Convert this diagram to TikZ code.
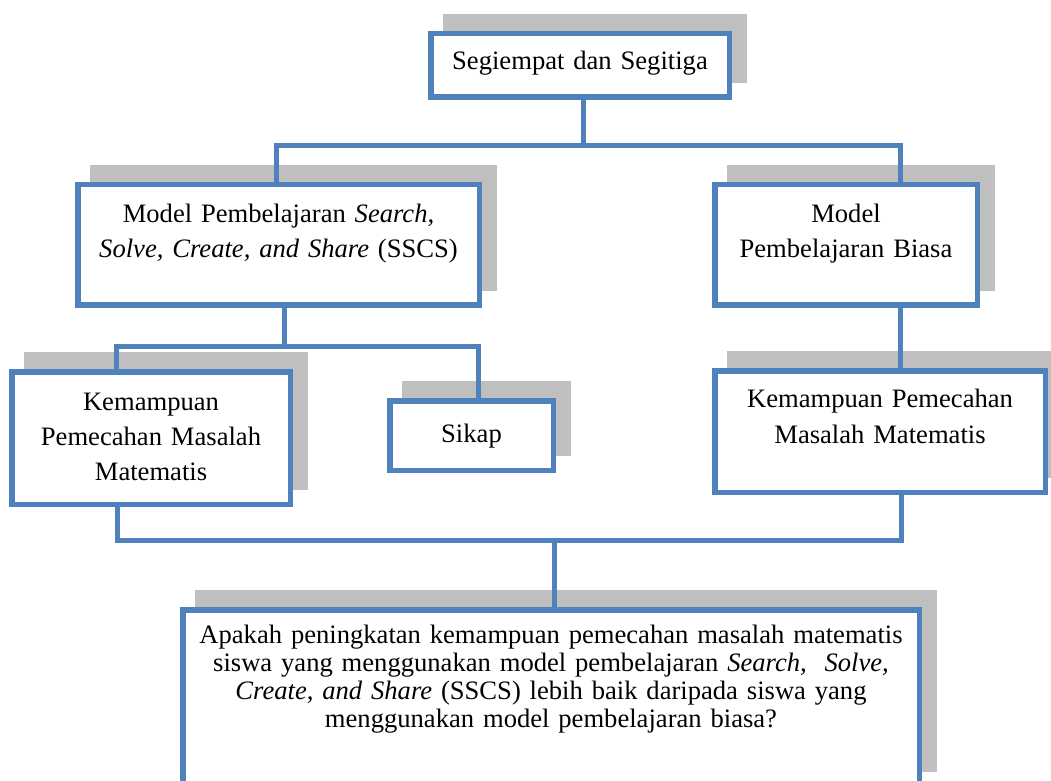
\documentclass[tikz,border=0pt]{standalone}
\usepackage{fontspec}
\setmainfont{Liberation Serif}
\usepackage{tikz}
\usetikzlibrary{shadows, positioning, calc}

\definecolor{biru}{HTML}{4F81BD}
\definecolor{abu}{HTML}{BFBFBF}

\tikzset{
  kotak/.style={draw=biru, line width=2.75pt, fill=white, inner sep=0pt,
    align=center, text height=10pt,
    font=\fontsize{13.3}{17.5}\selectfont,
    drop shadow={shadow xshift=7.5pt, shadow yshift=8.5pt, fill=abu, draw=abu, opacity=1}},
  garis/.style={draw=biru, line width=2.5pt}
}

\begin{document}
\begin{tikzpicture}[x=0.5pt, y=-0.5pt]
				\useasboundingbox (0,0) rectangle (1051,781);
				\clip (0,0) rectangle (1051,781);
				
				% kotak-kotak
				\node[kotak, text width=149.25pt, minimum height=31.75pt, text depth=5.5pt] (top) at (580,65.5) {Segiempat dan Segitiga};
				\node[kotak, text width=200.75pt, minimum height=60.25pt, text depth=33pt] (sscs) at (278.5,245)
					{Model Pembelajaran \textit{Search,}\\ \textit{Solve, Create, and Share} (SSCS)};
				\node[kotak, text width=131.25pt, minimum height=60.25pt, text depth=33pt] (biasa) at (846,245)
					{Model\\ Pembelajaran Biasa};
				\node[kotak, text width=139.25pt, minimum height=66.25pt, text depth=38pt] (kml) at (151,438)
					{Kemampuan\\ Pemecahan Masalah\\ Matematis};
				\node[kotak, text width=81.75pt, minimum height=34.75pt, text depth=3.5pt] (sikap) at (471.5,435.5) {Sikap};
				\node[kotak, text width=165.25pt, minimum height=60.75pt, text depth=33.5pt] (kmr) at (880,431.5)
					{Kemampuan Pemecahan\\ Masalah Matematis};
				\node[kotak, text width=368.25pt, minimum height=88.25pt, text depth=65pt,
					font=\fontsize{13.3}{14}\selectfont] (tanya) at (551,698)
					{Apakah peningkatan kemampuan pemecahan masalah matematis\\
					 siswa yang menggunakan model pembelajaran \textit{Search,\ \ Solve,}\\
					 \textit{Create, and Share} (SSCS) lebih baik daripada siswa yang\\
					 menggunakan model pembelajaran biasa?};
				
				% titik-titik cabang
				\coordinate (bar1l) at (276,146);
				\coordinate (bar1m) at (583,146);
				\coordinate (bar1r) at (900,146);
				\coordinate (bar2l) at (116,346);
				\coordinate (bar2m) at (284,346);
				\coordinate (bar2r) at (478,346);
				\coordinate (bar3l) at (117,540);
				\coordinate (bar3m) at (554,540);
				\coordinate (bar3r) at (901,540);
				
				% garis penghubung
				\draw[garis] (top.south -| bar1m) -- (bar1m);
				\draw[garis] (sscs.north -| bar1l) -- (bar1l) -- (bar1r) -- (biasa.north -| bar1r);
				\draw[garis] (sscs.south -| bar2m) -- (bar2m);
				\draw[garis] (kml.north -| bar2l) -- (bar2l) -- (bar2r) -- (sikap.north -| bar2r);
				\draw[garis] (biasa.south -| bar1r) -- (kmr.north -| bar1r);
				\draw[garis] (kml.south -| bar3l) -- (bar3l) -- (bar3r) -- (kmr.south -| bar3r);
				\draw[garis] (bar3m) -- (tanya.north -| bar3m);
			\end{tikzpicture}
\end{document}
